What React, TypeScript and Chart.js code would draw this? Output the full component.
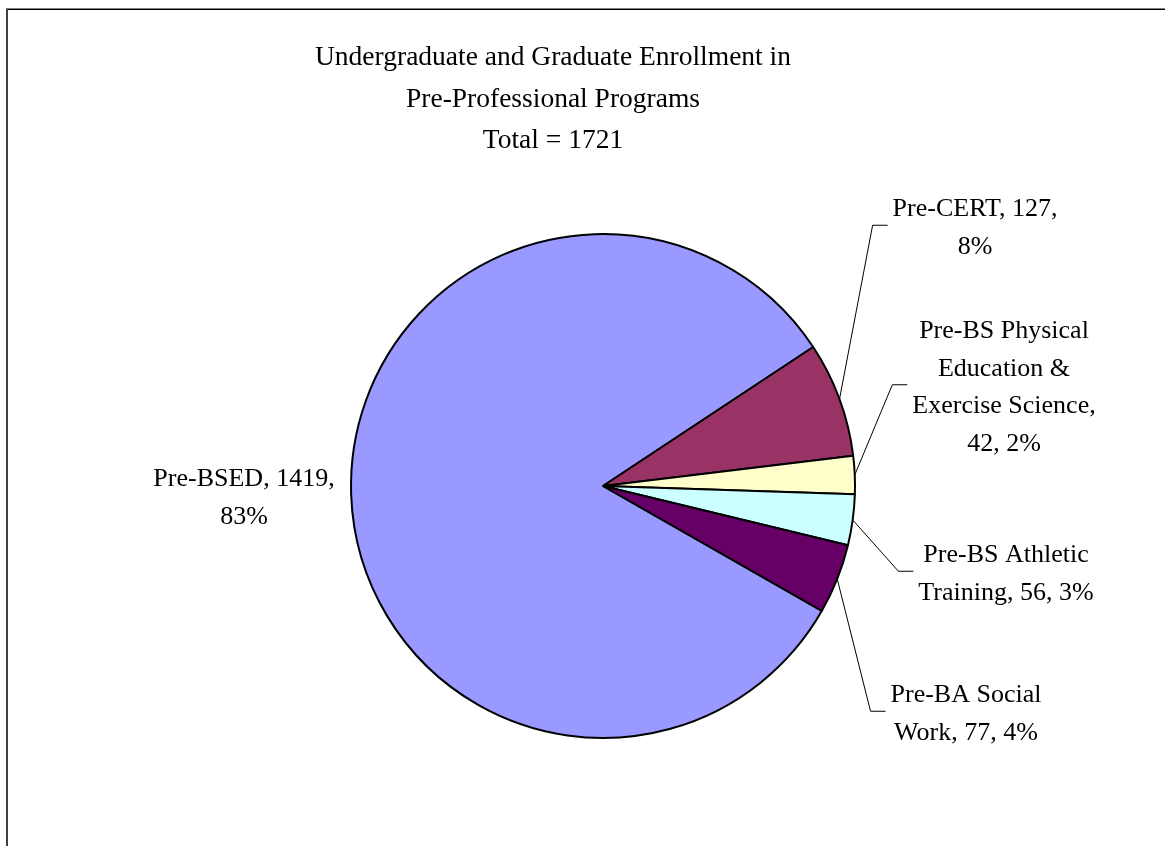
import { useEffect, useRef } from "react";
import { Chart, registerables } from "chart.js";

Chart.register(...registerables);

// ---- data ----
const categories = [
  "Pre-BSED",
  "Pre-CERT",
  "Pre-BS Physical Education & Exercise Science",
  "Pre-BS Athletic Training",
  "Pre-BA Social Work",
];
const enrollment = [1419, 127, 42, 56, 77];
const percentLabels = [83, 8, 2, 3, 4];
const sliceColors = ["#9999FF", "#993366", "#FFFFCC", "#CCFFFF", "#660066"];
const titleLines = [
  "Undergraduate and Graduate Enrollment in",
  "Pre-Professional Programs",
  "Total = " + enrollment.reduce((a, b) => a + b, 0),
];

// ---- layout ----
const W = 1165;
const H = 846;
const FONT = '"Liberation Serif", "Times New Roman", serif';
const TITLE_SIZE = 27.5;
const TITLE_X = 553;
const TITLE_Y0 = 65;
const TITLE_LH = 41.5;
const LABEL_SIZE = 26;
const LABEL_LH = 37.5;
const labelWordsPerLine = [[2, 1], [2, 1], [2, 2, 2, 2], [2, 3], [2, 3]];
// dx of label centre, dy of first baseline, relative to pie centre
const labelOffsets = [
  [-359, 0],
  [372, -270],
  [401, -148],
  [403, 76],
  [363, 216],
];
const showLeader = [false, true, true, true, true];

const overlayPlugin = {
  id: "overlay",
  beforeDraw(chart: any) {
    const ctx = chart.ctx;
    ctx.save();
    ctx.fillStyle = "#ffffff";
    ctx.fillRect(0, 0, chart.width, chart.height);
    ctx.restore();
  },
  afterDraw(chart: any) {
    const ctx = chart.ctx as CanvasRenderingContext2D;
    const meta = chart.getDatasetMeta(0);
    const arc0 = meta.data[0];
    const cx = arc0.x;
    const cy = arc0.y;
    const r = arc0.outerRadius;
    ctx.save();

    // frame
    ctx.strokeStyle = "#000000";
    ctx.lineWidth = 1.5;
    ctx.beginPath();
    ctx.moveTo(6, 9.25);
    ctx.lineTo(chart.width, 9.25);
    ctx.stroke();
    ctx.strokeStyle = "#404040";
    ctx.lineWidth = 2;
    ctx.beginPath();
    ctx.moveTo(7, 9);
    ctx.lineTo(7, chart.height);
    ctx.stroke();

    // title
    ctx.fillStyle = "#000000";
    ctx.textAlign = "center";
    ctx.textBaseline = "alphabetic";
    ctx.font = `${TITLE_SIZE}px ${FONT}`;
    titleLines.forEach((t, i) => ctx.fillText(t, TITLE_X, TITLE_Y0 + i * TITLE_LH));

    // data labels
    ctx.font = `${LABEL_SIZE}px ${FONT}`;
    meta.data.forEach((arc: any, i: number) => {
      const words = `${categories[i]}, ${enrollment[i]}, ${percentLabels[i]}%`.split(" ");
      const lines: string[] = [];
      let k = 0;
      labelWordsPerLine[i].forEach((n) => {
        lines.push(words.slice(k, k + n).join(" "));
        k += n;
      });
      const lx = cx + labelOffsets[i][0];
      const ly = cy + labelOffsets[i][1];
      ctx.fillStyle = "#000000";
      ctx.textAlign = "center";
      lines.forEach((l, j) => ctx.fillText(l, lx, ly + j * LABEL_LH));

      if (showLeader[i]) {
        const maxW = Math.max(...lines.map((l) => ctx.measureText(l).width));
        const left = lx - maxW / 2;
        const midY = ly + ((lines.length - 1) * LABEL_LH) / 2 - 9.5;
        const a = (arc.startAngle + arc.endAngle) / 2;
        const sx = cx + r * Math.cos(a);
        const sy = cy + r * Math.sin(a);
        ctx.strokeStyle = "#000000";
        ctx.lineWidth = 1;
        ctx.beginPath();
        ctx.moveTo(sx, sy);
        ctx.lineTo(left - 20, midY);
        ctx.lineTo(left - 5, midY);
        ctx.stroke();
      }
    });
    ctx.restore();
  },
};

export default function App() {
  const canvasRef = useRef<HTMLCanvasElement | null>(null);

  useEffect(() => {
    const canvas = canvasRef.current;
    if (!canvas) return;
    const chart = new Chart(canvas, {
      type: "pie",
      data: {
        labels: categories,
        datasets: [
          {
            data: enrollment,
            backgroundColor: sliceColors,
            borderColor: "#000000",
            borderWidth: 2,
            radius: 252,
          } as any,
        ],
      },
      options: {
        responsive: false,
        animation: false,
        rotation: 119.7,
        layout: { padding: { left: 41, right: 0, top: 126, bottom: 0 } },
        plugins: {
          legend: { display: false },
          title: { display: false },
          tooltip: { enabled: false },
        },
      } as any,
      plugins: [overlayPlugin],
    });
    return () => chart.destroy();
  }, []);

  return (
    <div style={{ position: "fixed", left: 0, top: 0, width: W, height: H, background: "#fff" }}>
      <canvas ref={canvasRef} width={W} height={H} style={{ display: "block", width: W, height: H }} />
    </div>
  );
}
